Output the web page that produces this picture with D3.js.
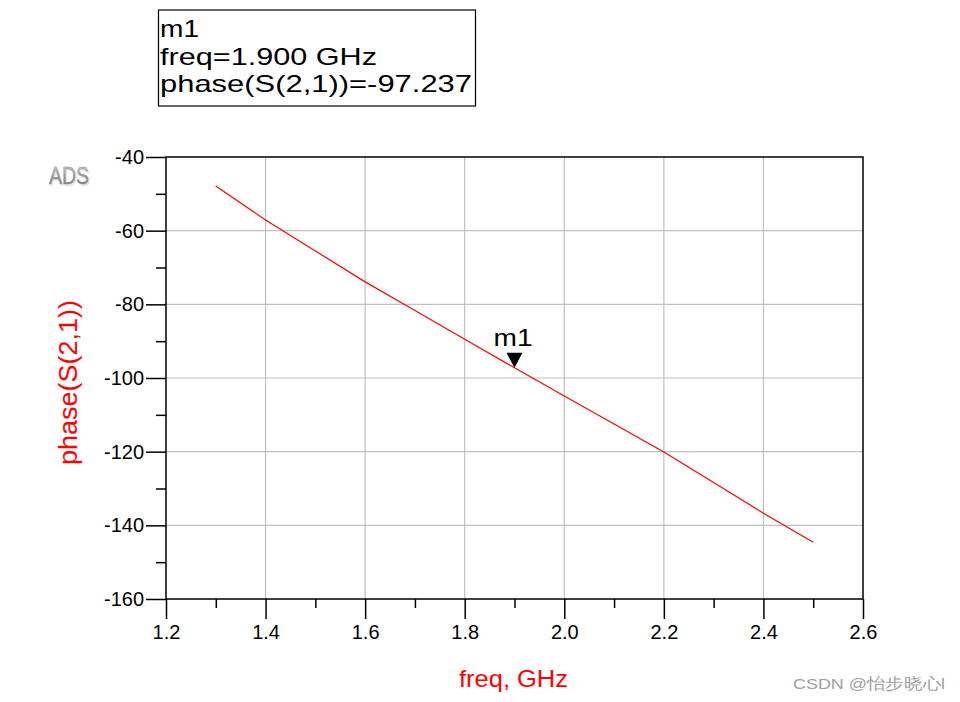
<!DOCTYPE html>
<html><head><meta charset="utf-8">
<script src="https://cdn.jsdelivr.net/npm/d3@7"></script>
<style>body{margin:0;background:#fff}svg{display:block}text{font-family:"Liberation Sans",Arial,sans-serif}</style>
</head><body><svg id="c" width="960" height="702"></svg>
<script>
const freq = [1.3,1.4,1.5,1.6,1.7,1.8,1.9,2.0,2.1,2.2,2.3,2.4,2.5];
const phase = [-47.9,-57.1,-65.5,-73.9,-81.7,-89.5,-97.237,-104.9,-112.5,-120.1,-128.4,-136.7,-144.6];
const xMajor = [1.2,1.4,1.6,1.8,2.0,2.2,2.4,2.6];
const xMinor = [1.3,1.5,1.7,1.9,2.1,2.3,2.5];
const yMajor = [-160,-140,-120,-100,-80,-60,-40];
const yMinor = [-150,-130,-110,-90,-70,-50];
const markerFreq = 1.9, markerVal = -97.237;
const markerLines = ["m1","freq=1.900 GHz","phase(S(2,1))=-97.237"];

const svg = d3.select("#c");
const defs = svg.append("defs");
const lg = defs.append("linearGradient").attr("id","adsg").attr("x1",0).attr("y1",0).attr("x2",0).attr("y2",1);
lg.append("stop").attr("offset","0%").attr("stop-color","#d8d8d8");
lg.append("stop").attr("offset","50%").attr("stop-color","#9a9a9a");
lg.append("stop").attr("offset","100%").attr("stop-color","#7a7a7a");

const L=166,T=157,R=863,B=599;
const x = d3.scaleLinear().domain([1.2,2.6]).range([L,R]);
const y = d3.scaleLinear().domain([-160,-40]).range([B,T]);

// grid
svg.append("g").selectAll("line").data(xMajor.slice(1,-1)).join("line")
  .attr("x1",d=>x(d)).attr("x2",d=>x(d)).attr("y1",T).attr("y2",B)
  .attr("stroke","#c0c0c0").attr("stroke-width",1.2);
svg.append("g").selectAll("line").data(yMajor.slice(1,-1)).join("line")
  .attr("y1",d=>y(d)).attr("y2",d=>y(d)).attr("x1",L).attr("x2",R)
  .attr("stroke","#c0c0c0").attr("stroke-width",1.2);

// axes
function styleAxis(g){g.select(".domain").remove();g.selectAll("line").attr("stroke","#000").attr("stroke-width",1.5);}
svg.append("g").attr("transform",`translate(0,${B})`)
  .call(d3.axisBottom(x).tickValues(xMinor).tickSize(9).tickSizeOuter(0).tickFormat(""))
  .call(styleAxis);
svg.append("g").attr("transform",`translate(0,${B})`)
  .call(d3.axisBottom(x).tickValues(xMajor).tickSize(20).tickSizeOuter(0).tickPadding(6).tickFormat(d=>d.toFixed(1)))
  .call(styleAxis)
  .call(g=>g.selectAll("text").attr("font-size",20).attr("fill","#000").attr("font-family","Liberation Sans, Arial"));
svg.append("g").attr("transform",`translate(${L},0)`)
  .call(d3.axisLeft(y).tickValues(yMinor).tickSize(10).tickSizeOuter(0).tickFormat(""))
  .call(styleAxis);
svg.append("g").attr("transform",`translate(${L},0)`)
  .call(d3.axisLeft(y).tickValues(yMajor).tickSize(20).tickSizeOuter(0).tickPadding(2).tickFormat(d=>String(d)))
  .call(styleAxis)
  .call(g=>g.selectAll("text").attr("font-size",20).attr("fill","#000").attr("font-family","Liberation Sans, Arial"));

// frame
svg.append("rect").attr("x",L).attr("y",T).attr("width",R-L).attr("height",B-T)
  .attr("fill","none").attr("stroke","#000").attr("stroke-width",1.5);

// line
svg.append("path").datum(freq.map((f,i)=>[f,phase[i]]))
  .attr("d",d3.line().x(d=>x(d[0])).y(d=>y(d[1])))
  .attr("fill","none").attr("stroke","#ff0000").attr("stroke-width",1.2);

// marker
const mx=x(markerFreq), my=y(markerVal);
svg.append("path").attr("d",`M${mx},${my} L${mx-8},${my-15} L${mx+8},${my-15} Z`).attr("fill","#000");
svg.append("text").attr("x",mx-21).attr("y",my-22).attr("font-size",24)
  .attr("textLength",39).attr("lengthAdjust","spacingAndGlyphs").text(markerLines[0]);

// marker box
const boxW=[39,217,312];
svg.append("rect").attr("x",158.5).attr("y",10).attr("width",317).attr("height",96)
  .attr("fill","#fff").attr("stroke","#000").attr("stroke-width",1.2);
svg.append("g").selectAll("text").data(markerLines).join("text")
  .attr("x",160).attr("y",(d,i)=>37+i*27.5).attr("font-size",24).attr("fill","#000")
  .attr("textLength",(d,i)=>boxW[i]).attr("lengthAdjust","spacingAndGlyphs").text(d=>d);

// axis titles
svg.append("text").attr("x",459).attr("y",687)
  .attr("font-size",24.5).attr("fill","#ff0000")
  .attr("textLength",109).attr("lengthAdjust","spacingAndGlyphs").text("freq, GHz");
svg.append("text").attr("transform","translate(77,465) rotate(-90)")
  .attr("font-size",25).attr("fill","#ff0000")
  .attr("textLength",165).attr("lengthAdjust","spacingAndGlyphs").text("phase(S(2,1))");

// ADS logo
svg.append("text").attr("x",50.5).attr("y",185.5)
  .attr("font-size",23).attr("fill","#e6e6e6").attr("textLength",40).attr("lengthAdjust","spacingAndGlyphs").text("ADS");
svg.append("text").attr("x",49).attr("y",184)
  .attr("font-size",23).attr("fill","url(#adsg)").attr("stroke","#8c8c8c").attr("stroke-width",0.4)
  .attr("textLength",40).attr("lengthAdjust","spacingAndGlyphs").text("ADS");

// watermark
svg.append("text").attr("x",793).attr("y",689)
  .attr("font-size",15.5).attr("fill","#a0a0a0").attr("textLength",152).attr("lengthAdjust","spacingAndGlyphs")
  .attr("font-family","Liberation Sans, Noto Sans CJK SC, sans-serif").text("CSDN @怡步晓心l");
</script></body></html>
